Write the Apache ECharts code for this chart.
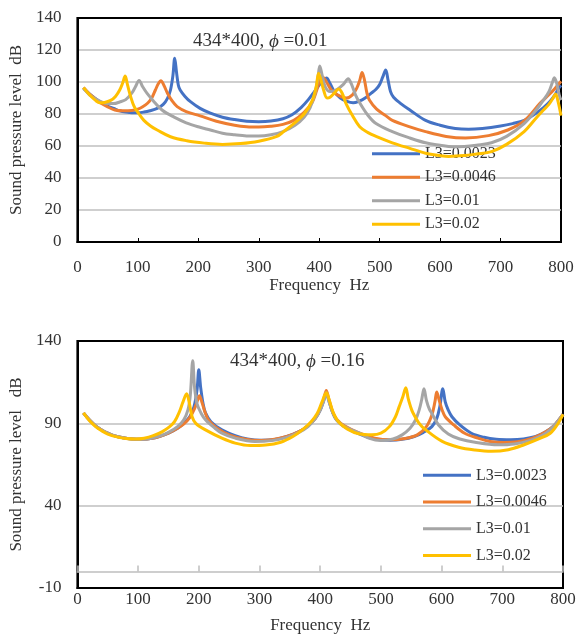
<!DOCTYPE html>
<html>
<head>
<meta charset="utf-8">
<script src="https://cdn.jsdelivr.net/npm/echarts@6/dist/echarts.min.js"></script>
<style>
  html, body { margin: 0; padding: 0; background: #fff; }
  #chart { width: 585px; height: 635px; }
</style>
</head>
<body>
<div id="chart"></div>
<script>
const legendNames = ['L3=0.0023', 'L3=0.0046', 'L3=0.01', 'L3=0.02'];
const lineColors = ['#4472C4', '#ED7D31', '#A5A5A5', '#FFC000'];

// phi = 0.01 (upper chart), [frequency Hz, dB]
const topBlue = [[10,96],[20,92.5],[30,89.5],[40,87],[50,85],[60,83.5],[70,82],[80,81.2],[90,80.8],[100,80.8],[110,81.2],[120,82],[132,83.5],[142,86],[149,89.8],[154,95],[158,104],[161,114.8],[164,106],[167,98],[170,95],[178,91],[187,87.7],[203,83.5],[220,80.5],[240,78],[260,76.5],[280,75.5],[300,75.2],[320,75.6],[340,77],[355,79.5],[370,84],[382,89],[392,94],[400,98],[406,101],[412,102.5],[418,99],[425,94],[435,90],[445,88],[456,87],[466,88],[476,90],[486,93],[494,95.5],[500,98.5],[505,103],[510,107.5],[514,101],[518,94],[523,90.5],[535,86.5],[550,82.5],[576,76],[600,73],[625,71],[647,70.5],[670,71],[700,72.5],[720,74],[739,76],[755,79.5],[771,84],[782,88],[790,92],[796,96],[800,98]];
const topOrange = [[10,96.5],[20,92.5],[30,89.5],[40,86.5],[50,84.5],[62,82.5],[75,82],[90,82.2],[100,83],[108,84.5],[116,86.7],[123,90],[129,95],[134,99],[138,100.8],[143,98],[149,93],[157,88],[165,84.6],[180,81.5],[203,78.8],[230,75.5],[260,73],[280,72],[300,71.8],[320,72.3],[340,73.5],[358,76],[375,81],[388,87],[396,95],[401,101],[406,103],[412,100],[420,95],[430,92],[445,90],[455,92],[462,96],[467,101],[471,106],[475,101],[479,93],[483,88.7],[495,83],[510,79],[521,76],[550,72],[576,69],[610,66],[642,65],[680,66.5],[712,70],[740,76],[766,87],[780,92],[790,96],[800,100.5]];
const topGray = [[10,96.5],[20,92],[30,89.5],[40,87.5],[50,86.5],[60,86.5],[70,87.5],[80,89],[90,93],[96,97],[102,101],[108,97],[115,93],[125,88.5],[140,82.5],[160,78],[180,74.5],[200,72],[220,70],[240,68],[260,67],[280,66.3],[300,66.2],[320,67],[340,69],[360,73],[375,78],[385,84],[393,93],[398,103],[401,110],[405,104],[410,97],[418,94],[430,95.5],[440,98.5],[448,102],[453,99],[460,92],[467,87],[480,79.5],[494,74],[521,69],[550,65],[576,62],[600,60.5],[620,59.5],[640,59.7],[660,60.5],[685,62],[710,66],[739,74],[760,83],[771,88.7],[780,94],[786,100],[789,102.7],[793,99],[797,92],[800,88.7]];
const topGold = [[10,96.5],[20,92],[30,88.5],[37,87],[45,87.2],[55,88.5],[63,91],[70,95],[75,99.5],[79,103.7],[83,98],[88,91],[94,84.6],[102,80],[110,76],[121,72.5],[132,70],[154,65.8],[181,63.3],[210,61.8],[240,61],[270,61.5],[300,63],[330,66],[341,69],[358,74],[375,80],[388,88],[395,97],[399,105.5],[403,101],[408,94],[413,90],[418,90.5],[425,93],[432,95.6],[438,93],[445,86],[455,79],[467,72],[480,68.5],[494,66],[521,62],[550,58.5],[576,55.5],[600,54],[614,53.5],[640,54],[660,55],[685,56.5],[710,61],[739,69],[760,78],[771,82.5],[780,86],[787,90],[791,92.5],[795,88],[800,79]];

// phi = 0.16 (lower chart)
const botBlue = [[10,96.3],[20,92],[30,88.5],[40,86],[50,84],[60,82.5],[75,81.2],[90,80.5],[105,80.3],[120,80.8],[135,82],[150,84],[165,87],[175,90],[185,94],[192,100],[197,110],[200,122.5],[203,112],[207,102],[211,96.3],[220,91],[238,86],[260,82.5],[280,80.5],[303,79.7],[325,80.2],[345,82],[365,85],[380,88.5],[392,93],[400,98],[406,104],[410,108.5],[414,104],[420,97],[427,92],[440,88],[465,83.5],[490,80.5],[515,79.8],[535,80.3],[555,82],[570,84.5],[584,88],[592,93],[597,100],[602,111],[606,103],[611,98],[617,94],[630,89],[649,84],[670,81.5],[690,80.3],[714,80],[735,80.5],[755,82],[770,84.5],[785,88.5],[795,93],[800,95.5]];
const botOrange = [[10,96.3],[20,92],[30,88.5],[40,86],[50,84],[60,82.5],[75,81.2],[90,80.5],[105,80.3],[120,80.8],[135,82],[150,84],[165,87],[175,89.5],[185,93.5],[193,99],[198,104],[201,106.7],[205,103],[210,97],[216,92],[230,87],[250,83],[275,80.5],[300,79.5],[320,80],[345,82],[365,85],[380,88.5],[392,93],[400,98.5],[406,105],[410,110],[414,105],[420,97.5],[427,92.5],[440,88.5],[465,84],[490,81],[515,80],[540,80.8],[560,83],[575,88],[584,95],[589,103],[592,109],[596,104],[601,98],[606,94],[620,89],[638,84],[660,81],[680,79],[703,78.3],[725,78.8],[750,81],[770,84.5],[785,88.5],[795,93],[800,95.5]];
const botGray = [[10,96.3],[20,92],[30,88.5],[40,86],[50,84],[60,82.5],[75,81.2],[90,80.5],[105,80.3],[120,80.8],[135,82.2],[150,84.5],[165,88],[175,92],[182,98],[186,107],[190,128],[193,112],[197,102],[204,96],[211,92.2],[225,87.5],[238,84],[260,81],[292,79],[320,79.5],[345,81.5],[365,84.5],[380,88],[392,93],[400,98],[406,104],[410,108.5],[414,104],[420,97],[427,92.2],[440,88],[465,84],[480,81],[500,79.5],[520,80.5],[535,83],[548,87],[557,92],[563,98],[567,104],[571,111],[575,104],[580,98.5],[584,96],[595,89],[611,83.5],[630,80.5],[655,78.5],[693,77],[720,77.5],[745,79.5],[765,82.5],[780,86.5],[792,91.5],[800,95.5]];
const botGold = [[10,96.3],[20,91.5],[30,88],[40,85.5],[50,83.5],[65,81.8],[80,80.8],[95,80.5],[110,81],[125,82.5],[140,85],[152,88],[160,91],[168,97],[174,103],[180,108],[184,103],[189,94],[195,90],[211,86],[238,81],[260,78],[285,76.5],[310,76.8],[335,78.5],[355,82],[372,86.5],[385,91],[395,96],[403,103],[410,108.5],[415,104],[421,97],[430,91],[445,86.5],[465,83.5],[485,83],[500,84],[514,88],[524,94],[530,100],[536,106],[541,111.6],[545,105],[549,100],[552,97],[563,90],[574,86],[601,79],[628,75.5],[655,73.8],[682,73],[710,74],[736,77],[760,80.5],[779,84],[792,90],[800,95.5]];

const topSets = [topBlue, topOrange, topGray, topGold];
const botSets = [botBlue, botOrange, botGray, botGold];

const serif = '"Liberation Serif", "DejaVu Serif", serif';
const txt = '#333';

const chart = echarts.init(document.getElementById('chart'));

const xBase = (grid) => ({
  type: 'value', gridIndex: grid, min: 0, max: 800, interval: 100, position: 'bottom',
  name: 'Frequency  Hz', nameLocation: 'middle',
  nameTextStyle: { fontFamily: serif, fontSize: 17, color: txt },
  axisLine: { onZero: false, lineStyle: { color: '#000', width: 2 } },
  axisTick: { show: false },
  splitLine: { show: false },
  axisLabel: { fontFamily: serif, fontSize: 17, color: txt }
});

const yBase = (grid, min, max, step, name) => ({
  type: 'value', gridIndex: grid, min: min, max: max, interval: step,
  name: name, nameLocation: 'middle', nameGap: 49,
  nameTextStyle: { fontFamily: serif, fontSize: 17, color: txt },
  axisLine: { show: true, lineStyle: { color: '#000', width: 2 } },
  axisTick: { show: false },
  splitLine: { show: true, showMinLine: false, showMaxLine: false, lineStyle: { color: '#bfbfbf', width: 1.5 } },
  axisLabel: { fontFamily: serif, fontSize: 17, color: txt, margin: 16 }
});

const xTop = xBase(0);
xTop.nameGap = 31;
xTop.axisLabel.margin = 17;
xTop.axisTick = { show: true, inside: true, length: 4, lineStyle: { color: '#000' } };

const xBot = xBase(1);
xBot.nameGap = 29;
xBot.axisLabel.margin = 3;

// gray axis line at 0 dB in the lower chart, with its ticks
const xBotZero = {
  type: 'value', gridIndex: 1, min: 0, max: 800, interval: 100, position: 'bottom',
  axisLine: { onZero: true, lineStyle: { color: '#bfbfbf', width: 1.5 } },
  axisTick: { show: true, inside: true, length: 6, lineStyle: { color: '#bfbfbf', width: 1.5 } },
  axisLabel: { show: false },
  splitLine: { show: false }
};

const makeSeries = (sets, xi, yi) => sets.map((d, i) => ({
  name: legendNames[i], type: 'line', xAxisIndex: xi, yAxisIndex: yi,
  data: d, showSymbol: false, smooth: 0.35,
  lineStyle: { width: 3, color: lineColors[i] },
  itemStyle: { color: lineColors[i] },
  z: 3 + i
}));

const titleRich = {
  a: { fontFamily: serif, fontSize: 19, color: txt, fontWeight: 'normal' },
  b: { fontFamily: serif, fontSize: 19, color: txt, fontWeight: 'normal', fontStyle: 'italic' }
};

chart.setOption({
  animation: false,
  backgroundColor: '#fff',
  title: [
    { left: 193, top: 32, padding: 0, text: '{a|434*400, }{b|ϕ}{a| =0.01}', textStyle: { fontWeight: 'normal', rich: titleRich } },
    { left: 230, top: 352, padding: 0, text: '{a|434*400, }{b|ϕ}{a| =0.16}', textStyle: { fontWeight: 'normal', rich: titleRich } }
  ],
  legend: [
    {
      orient: 'vertical', left: 367, top: 137, itemWidth: 48, itemHeight: 3, itemGap: 0,
      icon: 'rect', data: legendNames,
      textStyle: { fontFamily: serif, fontSize: 16, color: txt, lineHeight: 23.5 }
    },
    {
      orient: 'vertical', left: 418, top: 457, itemWidth: 48, itemHeight: 3, itemGap: 0,
      icon: 'rect', data: legendNames,
      textStyle: { fontFamily: serif, fontSize: 16, color: txt, lineHeight: 26.7 }
    }
  ],
  grid: [
    { left: 71, top: 18, right: 24, height: 224, show: true, borderColor: '#000', borderWidth: 2 },
    { left: 70, top: 341, right: 22, height: 248, show: true, borderColor: '#000', borderWidth: 2 }
  ],
  xAxis: [xTop, xBot, xBotZero],
  yAxis: [
    yBase(0, 0, 140, 20, 'Sound pressure level  dB'),
    yBase(1, -10, 140, 50, 'Sound pressure level   dB')
  ],
  series: makeSeries(topSets, 0, 0).concat(makeSeries(botSets, 1, 1))
});
</script>
</body>
</html>
